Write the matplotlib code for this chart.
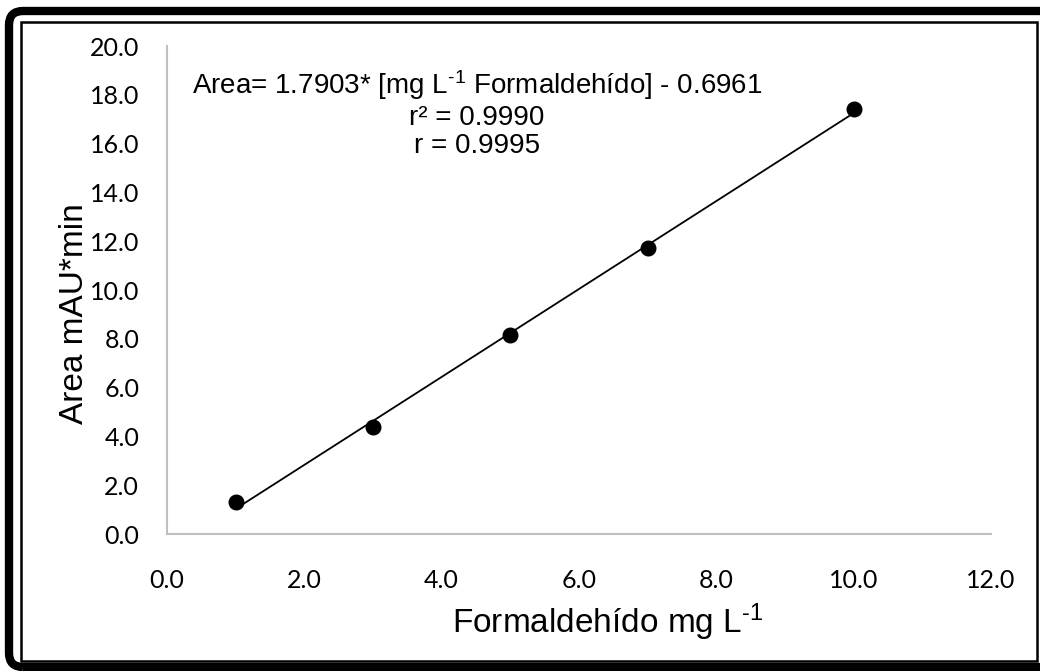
import numpy as np
import matplotlib.pyplot as plt
from matplotlib.patches import FancyBboxPatch, Rectangle

# calibration standards
conc = [1.0, 3.0, 5.0, 7.0, 10.0]          # mg/L formaldehyde
area = [1.30, 4.40, 8.16, 11.72, 17.42]    # mAU*min

x_ticks = [0, 2, 4, 6, 8, 10, 12]
y_ticks = [0, 2, 4, 6, 8, 10, 12, 14, 16, 18, 20]

eq_lines = [r"Area= 1.7903* [mg L$^{\text{-1}}$ Formaldehído] - 0.6961",
            "r² = 0.9990",
            "r = 0.9995"]

plt.rcParams["mathtext.fontset"] = "custom"
plt.rcParams["mathtext.rm"] = "Liberation Sans"
plt.rcParams["mathtext.default"] = "rm"

W, H = 1040, 671
fig = plt.figure(figsize=(W / 100, H / 100), dpi=100)
ax = fig.add_axes([167 / W, 1 - 534 / H, (991 - 167) / W, (534 - 46) / H])

# least squares trendline, drawn between the first and last standard
slope, icpt = np.polyfit(conc, area, 1)
xl = np.array([min(conc), max(conc)])
ax.plot(xl, slope * xl + icpt, color="black", lw=1.3, zorder=2)
ax.plot(conc, area, "o", color="black", ms=10.5, zorder=3)

ax.set_xlim(0, 12)
ax.set_ylim(0, 20)
ax.set_xticks(x_ticks)
ax.set_yticks(y_ticks)
ax.set_xticklabels([f"{v:.1f}" for v in x_ticks])
ax.set_yticklabels([f"{v:.1f}" for v in y_ticks])
ax.tick_params(length=0, labelsize=18)
ax.tick_params(axis="y", pad=20)
ax.tick_params(axis="x", pad=25)
for lab in ax.get_xticklabels() + ax.get_yticklabels():
    lab.set_family("Lato")

for s in ["top", "right"]:
    ax.spines[s].set_visible(False)
for s in ["left", "bottom"]:
    ax.spines[s].set_color("#bfbfbf")
    ax.spines[s].set_linewidth(1.5)

ax.set_xlabel(r"Formaldehído mg L$^{\text{-1}}$", family="Liberation Sans",
              fontsize=24)
ax.set_ylabel("Area mAU*min", family="Liberation Sans", fontsize=24)
ax.xaxis.set_label_coords(0.535, -0.138)
ax.yaxis.set_label_coords(-0.094, 0.452)

ax.text(477 / W, 1 - 114 / H, "\n".join(eq_lines), transform=fig.transFigure,
        ha="center", va="center", multialignment="center",
        family="Liberation Sans", fontsize=20, linespacing=1.12)

# double frame around the whole picture (pixel coordinates)
outer = FancyBboxPatch((9, 4), W + 20, H - 15,
                       boxstyle="round,pad=0,rounding_size=14",
                       transform=None, fill=False, ec="black", lw=6)
inner = Rectangle((20.5, 10.5), W - 3 - 20.5, H - 22 - 10.5,
                  transform=None, fill=False, ec="black", lw=1.8)
fig.patches.extend([outer, inner])

fig.savefig("out.png", dpi=100)
